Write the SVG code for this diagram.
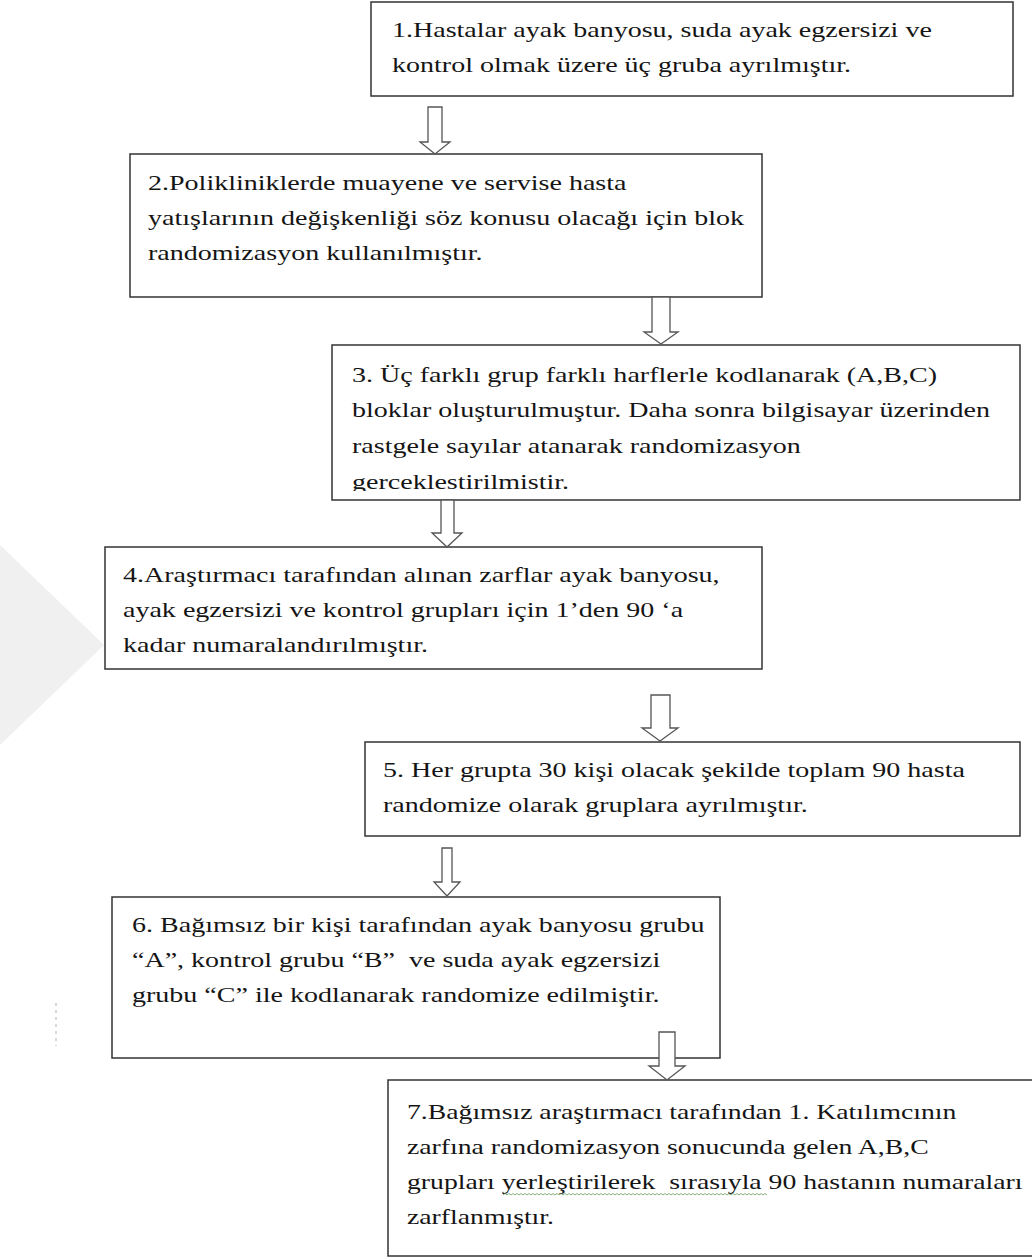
<svg xmlns="http://www.w3.org/2000/svg" width="1032" height="1260" viewBox="0 0 1032 1260">
<style>
.box{fill:#fff;stroke:#333;stroke-width:1.5}
.arr{fill:#fff;stroke:#555;stroke-width:1.3}
.t{font-family:"Liberation Serif","Times New Roman",serif;font-size:21px;fill:#151515}
</style>
<defs>
<clipPath id="c3"><rect x="333" y="346" width="686" height="145"/></clipPath>
</defs>
<rect width="1032" height="1260" fill="#fff"/>
<polygon points="0,545 104,645 0,745" fill="#f0f0f0"/>
<line x1="56" y1="1003" x2="56" y2="1046" stroke="#ccc" stroke-width="1.5" stroke-dasharray="3,4"/>
<g id="n1"><rect class="box" x="371" y="2" width="642" height="94"/>
<g transform="translate(392,0) scale(1.335,1)">
<text class="t" x="0" y="37">1.Hastalar ayak banyosu, suda ayak egzersizi ve</text>
<text class="t" x="0" y="72">kontrol olmak üzere üç gruba ayrılmıştır.</text></g></g>
<g id="n2"><rect class="box" x="130" y="154" width="632" height="143"/>
<g transform="translate(148,0) scale(1.335,1)">
<text class="t" x="0" y="190">2.Polikliniklerde muayene ve servise hasta</text>
<text class="t" x="0" y="225">yatışlarının değişkenliği söz konusu olacağı için blok</text>
<text class="t" x="0" y="260">randomizasyon kullanılmıştır.</text></g></g>
<g id="n3"><rect class="box" x="332" y="345" width="688" height="155"/>
<g clip-path="url(#c3)"><g transform="translate(352,0) scale(1.335,1)">
<text class="t" x="0" y="382">3. Üç farklı grup farklı harflerle kodlanarak (A,B,C)</text>
<text class="t" x="0" y="417">bloklar oluşturulmuştur. Daha sonra bilgisayar üzerinden</text>
<text class="t" x="0" y="453">rastgele sayılar atanarak randomizasyon</text>
<text class="t" x="0" y="489">gerceklestirilmistir.</text></g></g></g>
<g id="n4"><rect class="box" x="105" y="547" width="657" height="122"/>
<g transform="translate(123,0) scale(1.335,1)">
<text class="t" x="0" y="582">4.Araştırmacı tarafından alınan zarflar ayak banyosu,</text>
<text class="t" x="0" y="617">ayak egzersizi ve kontrol grupları için 1’den 90 ‘a</text>
<text class="t" x="0" y="652">kadar numaralandırılmıştır.</text></g></g>
<g id="n5"><rect class="box" x="365" y="742" width="655" height="94"/>
<g transform="translate(383,0) scale(1.335,1)">
<text class="t" x="0" y="777">5. Her grupta 30 kişi olacak şekilde toplam 90 hasta</text>
<text class="t" x="0" y="812">randomize olarak gruplara ayrılmıştır.</text></g></g>
<g id="n6"><rect class="box" x="112" y="897" width="608" height="161"/>
<g transform="translate(132,0) scale(1.335,1)">
<text class="t" x="0" y="932">6. Bağımsız bir kişi tarafından ayak banyosu grubu</text>
<text class="t" x="0" y="967" xml:space="preserve">“A”, kontrol grubu “B”  ve suda ayak egzersizi</text>
<text class="t" x="0" y="1002">grubu “C” ile kodlanarak randomize edilmiştir.</text></g></g>
<g id="n7"><rect class="box" x="388" y="1080" width="660" height="176"/>
<g transform="translate(407,0) scale(1.32,1)">
<text class="t" x="0" y="1119">7.Bağımsız araştırmacı tarafından 1. Katılımcının</text>
<text class="t" x="0" y="1154">zarfına randomizasyon sonucunda gelen A,B,C</text>
<text class="t" x="0" y="1189" xml:space="preserve">grupları yerleştirilerek  sırasıyla 90 hastanın numaraları</text>
<text class="t" x="0" y="1224">zarflanmıştır.</text></g>
<path d="M503,1195 l2,-1.5 l2,1.5 l2,-1.5 l2,1.5 l2,-1.5 l2,1.5 l2,-1.5 l2,1.5 l2,-1.5 l2,1.5 l2,-1.5 l2,1.5 l2,-1.5 l2,1.5 l2,-1.5 l2,1.5 l2,-1.5 l2,1.5 l2,-1.5 l2,1.5 l2,-1.5 l2,1.5 l2,-1.5 l2,1.5 l2,-1.5 l2,1.5 l2,-1.5 l2,1.5 l2,-1.5 l2,1.5 l2,-1.5 l2,1.5 l2,-1.5 l2,1.5 l2,-1.5 l2,1.5 l2,-1.5 l2,1.5 l2,-1.5 l2,1.5 l2,-1.5 l2,1.5 l2,-1.5 l2,1.5 l2,-1.5 l2,1.5 l2,-1.5 l2,1.5 l2,-1.5 l2,1.5 l2,-1.5 l2,1.5 l2,-1.5 l2,1.5 l2,-1.5 l2,1.5 l2,-1.5 l2,1.5 l2,-1.5 l2,1.5 l2,-1.5 l2,1.5 l2,-1.5 l2,1.5 l2,-1.5 l2,1.5 l2,-1.5 l2,1.5 l2,-1.5 l2,1.5 l2,-1.5 l2,1.5 l2,-1.5 l2,1.5 l2,-1.5 l2,1.5 l2,-1.5 l2,1.5 l2,-1.5 l2,1.5 l2,-1.5 l2,1.5 l2,-1.5 l2,1.5 l2,-1.5 l2,1.5 l2,-1.5 l2,1.5 l2,-1.5 l2,1.5 l2,-1.5 l2,1.5 l2,-1.5 l2,1.5 l2,-1.5 l2,1.5 l2,-1.5 l2,1.5 l2,-1.5 l2,1.5 l2,-1.5 l2,1.5 l2,-1.5 l2,1.5 l2,-1.5 l2,1.5 l2,-1.5 l2,1.5 l2,-1.5 l2,1.5 l2,-1.5 l2,1.5 l2,-1.5 l2,1.5 l2,-1.5 l2,1.5 l2,-1.5 l2,1.5 l2,-1.5 l2,1.5 l2,-1.5 l2,1.5 l2,-1.5 l2,1.5 l2,-1.5 l2,1.5 l2,-1.5 l2,1.5 l2,-1.5 l2,1.5 l2,-1.5 l2,1.5" fill="none" stroke="#6a9a5a" stroke-width="0.8"/></g>
<g id="connectors">
<polygon class="arr" points="428,107 442,107 442,142 450,142 435,154 420,142 428,142"/>
<polygon class="arr" points="652,297 670,297 670,332 678,332 661,344 644,332 652,332"/>
<polygon class="arr" points="441,500 454,500 454,533 462,533 447,547 432,533 441,533"/>
<polygon class="arr" points="651,695 670,695 670,728 678,728 660,741 642,728 651,728"/>
<polygon class="arr" points="442,848 452,848 452,882 460,882 447,896 434,882 442,882"/>
<polygon class="arr" points="659,1032 675,1032 675,1066 685,1066 667,1080 649,1066 659,1066"/>
</g>
</svg>
